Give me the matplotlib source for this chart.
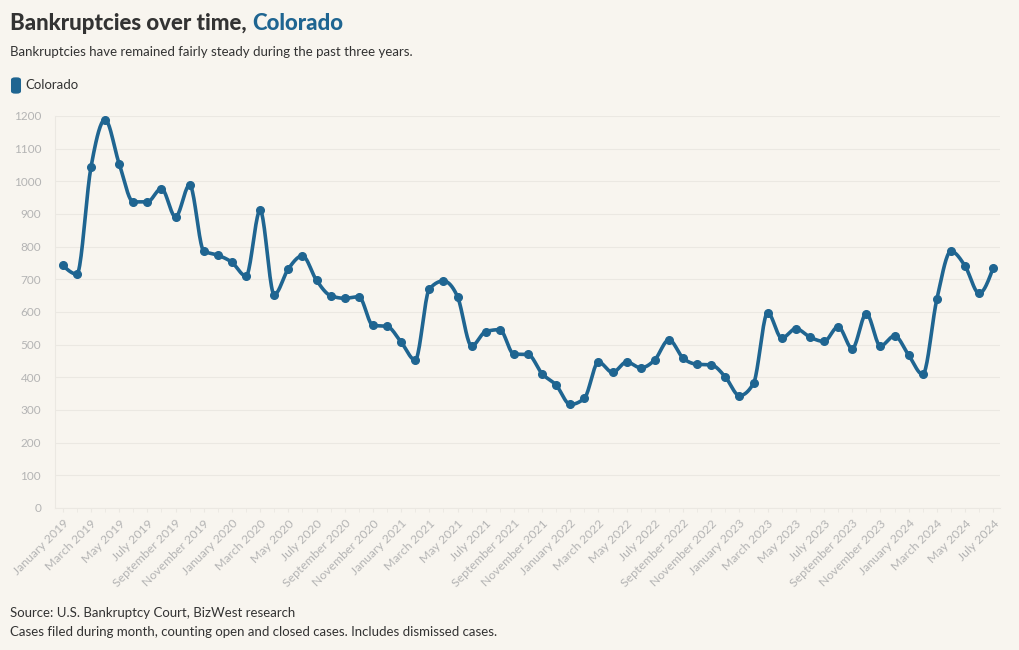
import numpy as np
import matplotlib
matplotlib.use('Agg')
import matplotlib.pyplot as plt
from matplotlib.patches import FancyBboxPatch

##################################################################
months = ['January', 'February', 'March', 'April', 'May', 'June', 'July',
          'August', 'September', 'October', 'November', 'December']
labels = [m + ' ' + str(y) for y in range(2019, 2025) for m in months][:67]

colorado = [743, 716, 1043, 1189, 1054, 937, 937, 978, 891, 989,
            787, 774, 752, 710, 911, 653, 732, 772, 697, 650,
            642, 647, 559, 556, 508, 453, 670, 695, 647, 496,
            540, 546, 471, 470, 411, 376, 317, 336, 447, 415,
            447, 429, 454, 515, 459, 440, 438, 401, 344, 382,
            598, 520, 549, 523, 510, 555, 488, 595, 496, 527,
            468, 409, 639, 786, 741, 657, 736]
##################################################################

bg = '#f8f5ef'
blue = '#1f6591'
grey = '#b4b4b4'
plt.rcParams['font.family'] = ['Lato', 'DejaVu Sans']


def monotone(x, y, n=20):
    # monotone cubic (like d3 curveMonotoneX), only used to draw the line
    x = np.asarray(x, float)
    y = np.asarray(y, float)
    h = np.diff(x)
    d = np.diff(y) / h
    m = np.zeros_like(y)
    for i in range(1, len(y) - 1):
        if d[i - 1] * d[i] > 0:
            p = (d[i - 1] * h[i] + d[i] * h[i - 1]) / (h[i - 1] + h[i])
            m[i] = np.sign(d[i - 1]) * min(2 * abs(d[i - 1]), 2 * abs(d[i]), abs(p))
    m[0] = (3 * d[0] - m[1]) / 2
    m[-1] = (3 * d[-1] - m[-2]) / 2
    xs, ys = [], []
    for i in range(len(h)):
        t = np.linspace(0, 1, n, endpoint=False)
        h00 = 2 * t**3 - 3 * t**2 + 1
        h10 = t**3 - 2 * t**2 + t
        h01 = -2 * t**3 + 3 * t**2
        h11 = t**3 - t**2
        xs += list(x[i] + t * h[i])
        ys += list(h00 * y[i] + h10 * h[i] * m[i] + h01 * y[i + 1] + h11 * h[i] * m[i + 1])
    xs.append(x[-1])
    ys.append(y[-1])
    return np.array(xs), np.array(ys)


x = np.arange(len(colorado))
sx, sy = monotone(x, colorado)

fig = plt.figure(figsize=(10.2, 6.5), dpi=100, facecolor=bg)
ax = fig.add_axes([55 / 1020, 1 - 508 / 650, 945 / 1020, 392 / 650])
ax.set_facecolor(bg)

ax.plot(sx, sy, '-', color=blue, lw=2.6, solid_capstyle='round', zorder=3)
ax.plot(x, colorado, 'o', color=blue, ms=5.5, zorder=4)

ax.set_xlim(-0.55, 66.48)
ax.set_ylim(0, 1200)

ax.set_yticks(np.arange(0, 1201, 100))
ax.set_yticklabels([str(v) for v in range(0, 1201, 100)], color=grey, fontsize=8.5)
ax.set_xticks(x[::2])
ax.set_xticklabels(labels[::2], rotation=45, ha='right', rotation_mode='anchor',
                   color=grey, fontsize=8.8)
ax.set_xticks(x, minor=True)
ax.tick_params(axis='y', length=0, pad=10)
ax.tick_params(axis='x', which='both', length=3, color='#ebe8e2', pad=4)

ax.grid(axis='y', color='#ebe8e2', lw=0.8)
ax.set_axisbelow(True)
for s in ['top', 'right']:
    ax.spines[s].set_visible(False)
ax.spines['left'].set_color('#ebe8e2')
ax.spines['bottom'].set_color('#ebe8e2')

# title in two colours
t1 = fig.text(10 / 1020, 1 - 24 / 650, 'Bankruptcies over time, ', fontsize=16,
              fontweight='black', color='#333333', va='center')
fig.canvas.draw()
bb = t1.get_window_extent()
fig.text(bb.x1 / 1020, 1 - 24 / 650, 'Colorado', fontsize=16, fontweight='black',
         color=blue, va='center')
fig.text(10 / 1020, 1 - 52 / 650,
         'Bankruptcies have remained fairly steady during the past three years.',
         fontsize=9.5, color='#333333', va='center')

# legend
fig.patches.append(FancyBboxPatch((12 / 1020, 1 - 93 / 650), 8 / 1020, 15 / 650,
                                  boxstyle='round,pad=0.001,rounding_size=0.004',
                                  transform=fig.transFigure, fc=blue, ec='none'))
fig.text(25 / 1020, 1 - 85 / 650, 'Colorado', fontsize=9.5, color='#333333', va='center')

fig.text(10 / 1020, 1 - 613 / 650, 'Source: U.S. Bankruptcy Court, BizWest research',
         fontsize=9.5, color='#333333', va='center')
fig.text(10 / 1020, 1 - 632 / 650,
         'Cases filed during month, counting open and closed cases. Includes dismissed cases.',
         fontsize=9.5, color='#333333', va='center')

fig.savefig('out.png', dpi=100, facecolor=bg)
